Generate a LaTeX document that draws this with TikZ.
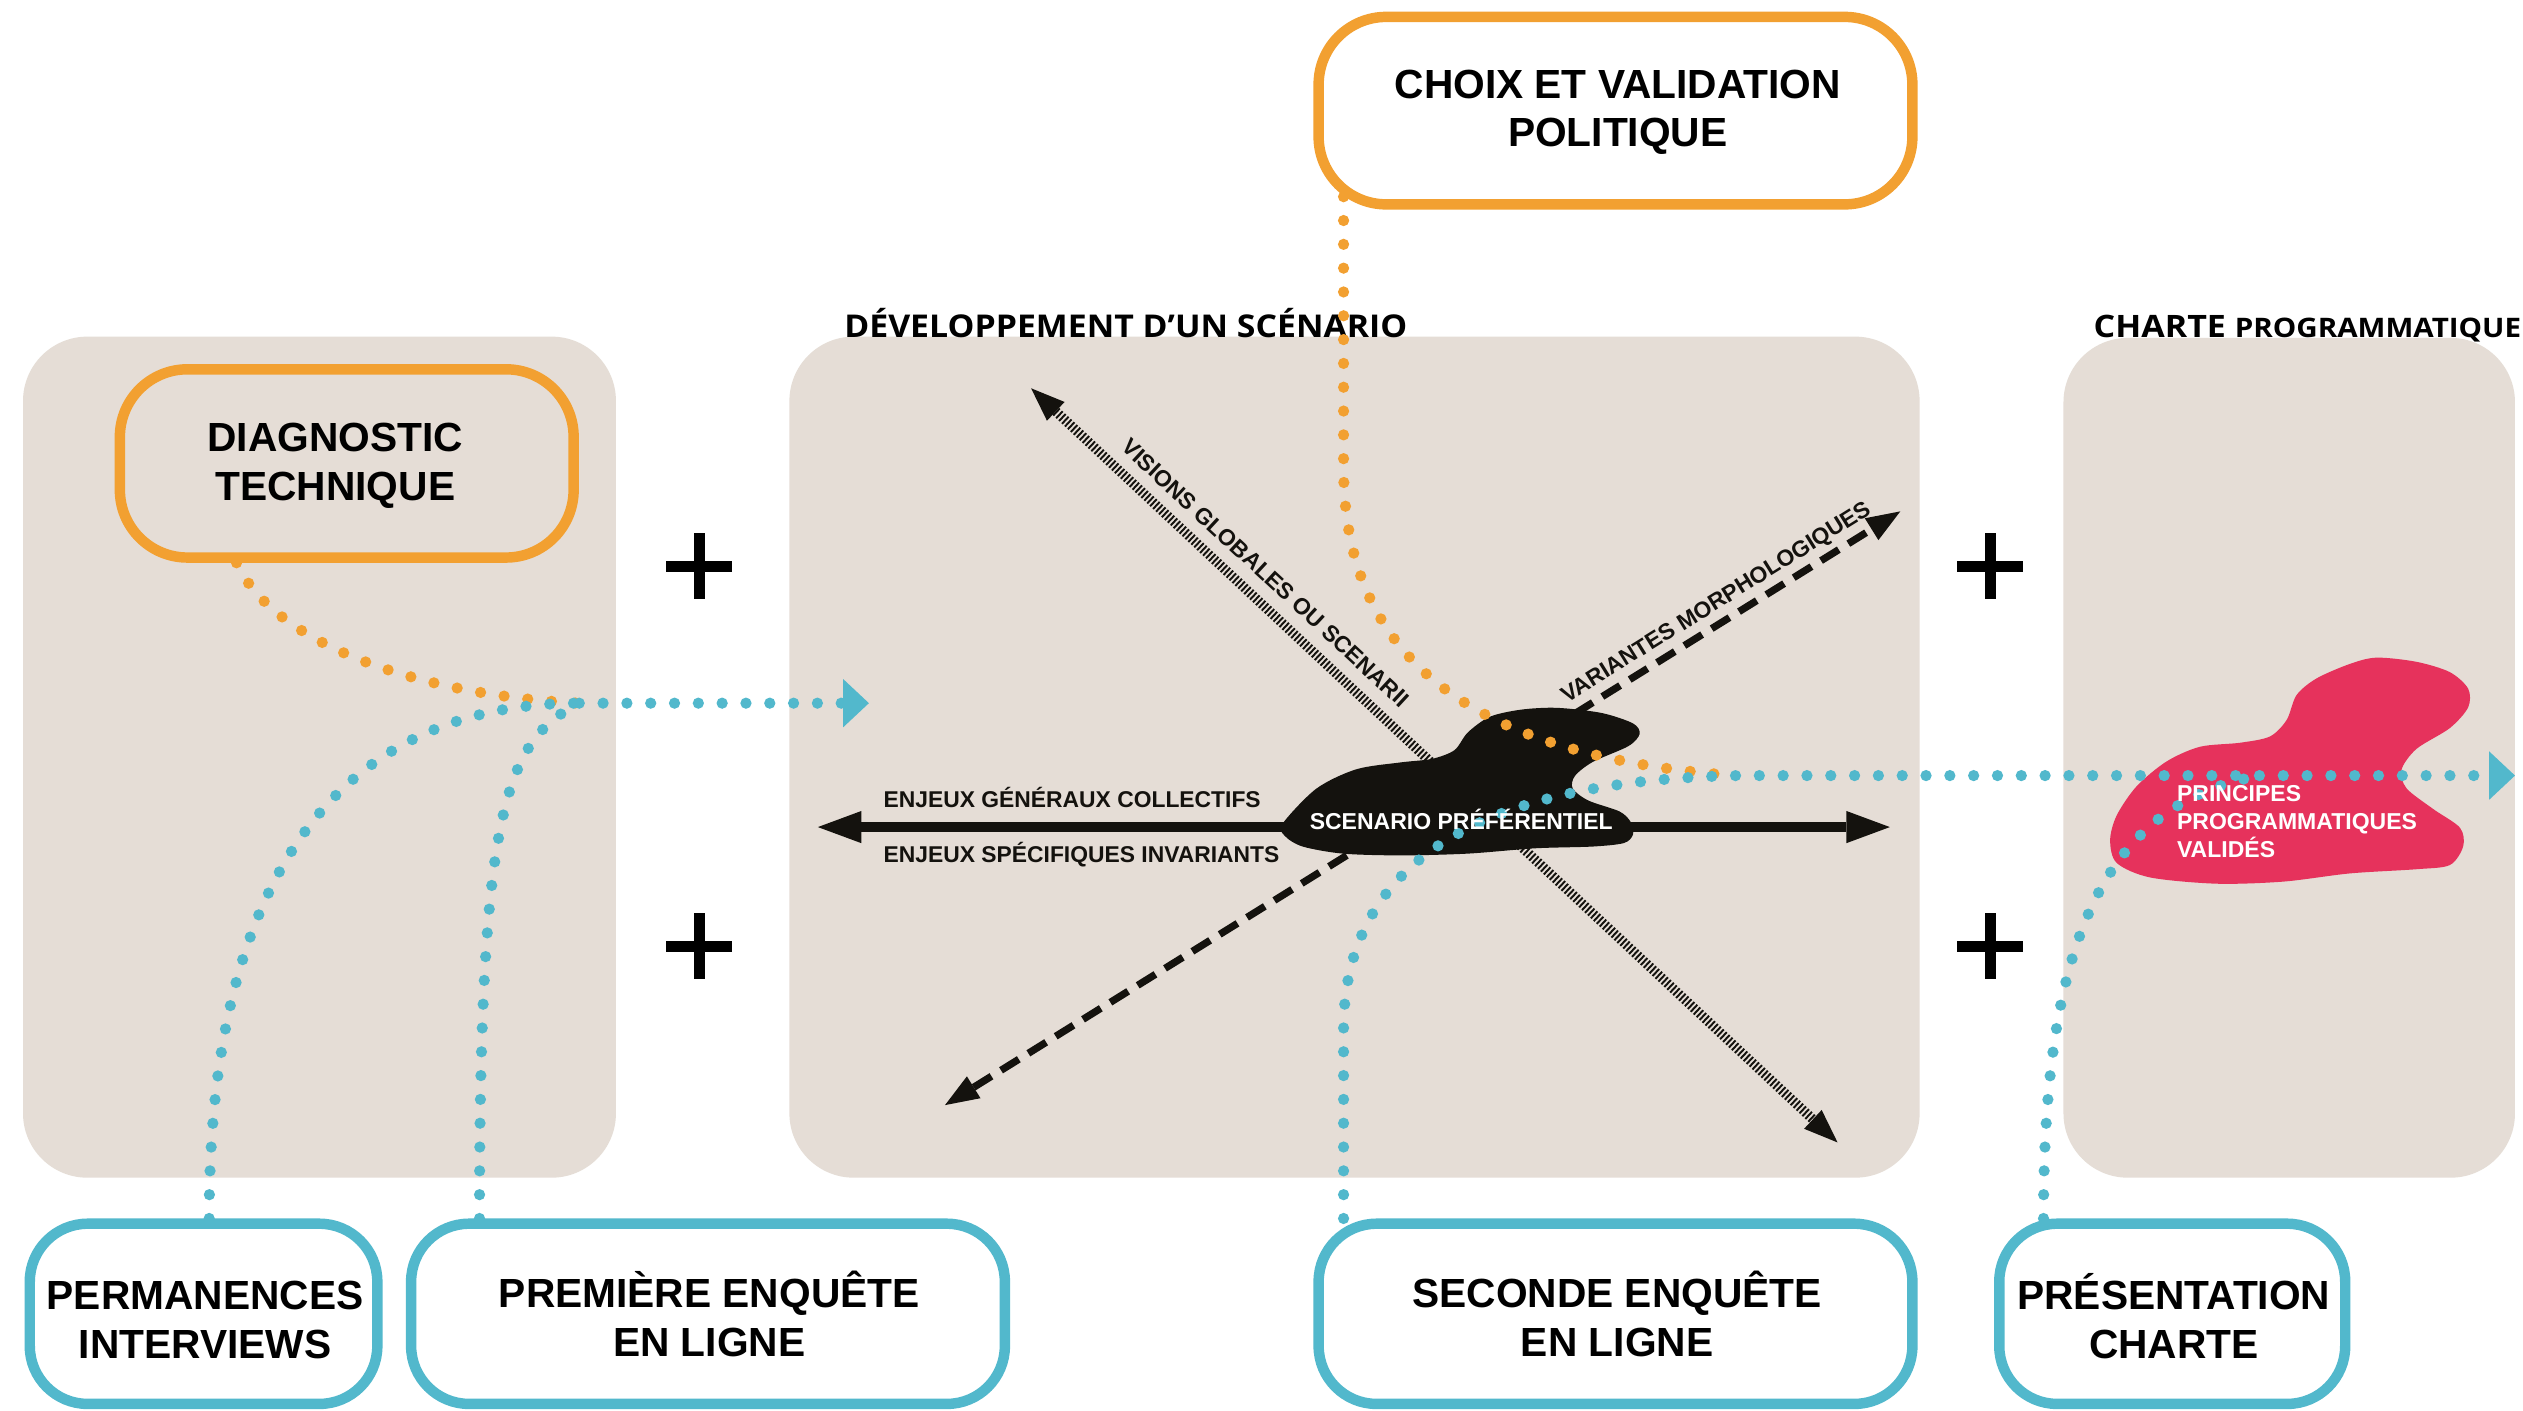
\documentclass[tikz,border=0pt]{standalone}
\usepackage{fontspec}
\setmainfont{Liberation Sans}
\newfontfamily\titlefont[FakeStretch=1.1]{Open Sans}
\newfontfamily\titlefontb[FakeStretch=1.078]{Open Sans}
\usetikzlibrary{arrows.meta}
\definecolor{bgbeige}{RGB}{229,221,214}
\definecolor{orng}{RGB}{242,160,49}
\definecolor{tl}{RGB}{82,184,204}
\definecolor{pinkb}{RGB}{230,50,92}
\definecolor{ink}{RGB}{20,18,14}
\tikzset{
  bigtri/.tip={Triangle[length=27pt,width=20pt,line width=0pt]},
  midtri/.tip={Triangle[length=21pt,width=16pt,line width=0pt]},
  ttri/.tip={Triangle[length=16pt,width=30pt,line width=0pt]},
}
\begin{document}
\begin{tikzpicture}[x=1pt,y=-1pt,
  bgbox/.style={fill=bgbeige, rounded corners=40pt},
  obox/.style={draw=orng, line width=6.5pt, rounded corners=42pt, inner sep=0pt},
  tbox/.style={draw=tl, line width=6.5pt, fill=white, rounded corners=36pt, inner sep=0pt},
  boxtxt/.style={font=\bfseries\fontsize{25.3}{30.4}\selectfont, align=center, inner sep=0pt, text=black},
  lbl/.style={font=\bfseries\fontsize{14.2}{17}\selectfont, inner sep=0pt, text=ink},
  ttl/.style={font=\titlefontb\bfseries\fontsize{19.5}{22}\selectfont, inner sep=0pt, anchor=base west, text=black},
  dotO/.style={draw=orng, line width=7pt, line cap=round, dash pattern=on 0pt off 14.8pt},
  dotT/.style={draw=tl, line width=7pt, line cap=round, dash pattern=on 0pt off 14.8pt},
  plusbar/.style={draw=black, line width=7pt},
]
\useasboundingbox[fill=white] (0,0) rectangle (1568,876.3);

% panels
\path[bgbox] (14.3,209.2) rectangle (382.8,731.9);
\path[bgbox] (490.6,209.2) rectangle (1193,731.9);
\path[bgbox] (1282.4,210) rectangle (1563,731.9);

% section titles
\node[ttl] (tdev) at (524.5,209.6) {DÉVELOPPEMENT D’UN SCÉNARIO};
\node[ttl, font=\titlefont\bfseries\fontsize{19.2}{22}\selectfont] (tcha) at (1301,209.6) {CHARTE {\fontsize{16.7}{22}\selectfont PROGRAMMATIQUE}};

% plus signs
\foreach \px/\py in {434.5/352, 434.5/588, 1237/352, 1237/588} {
  \draw[plusbar] (\px-20.5,\py) -- (\px+20.5,\py) (\px,\py-20.5) -- (\px,\py+20.5);
}

% axes
\coordinate (hL) at (508.3,514);
\coordinate (hR) at (1174.5,514);
\coordinate (dSW) at (587.3,686.8);
\coordinate (dNE) at (1181,317.8);
\coordinate (vNW) at (640.8,241.3);
\coordinate (vSE) at (1142,710);
\draw[ink, line width=4.5pt, dash pattern=on 13pt off 7pt, midtri-midtri] (dSW) -- (dNE);
\draw[ink, line width=6pt, dash pattern=on 1.2pt off 1.3pt, midtri-midtri] (vNW) -- (vSE);
\draw[ink, line width=6pt, bigtri-bigtri] (hL) -- (hR);

\node[lbl, rotate=-42.8] (lvis) at (786.5,356) {VISIONS GLOBALES OU SCENARII};
\node[lbl, rotate=31.9] (lvar) at (1067,375) {VARIANTES MORPHOLOGIQUES};
\node[lbl, anchor=base west] (lcol) at (549,502) {ENJEUX GÉNÉRAUX COLLECTIFS};
\node[lbl, anchor=base west] (linv) at (549,536.2) {ENJEUX SPÉCIFIQUES INVARIANTS};

% black blob
\fill[ink] plot[smooth cycle, tension=0.5] coordinates {
(797.1,511.9) (818.1,490.1) (842.9,478.1) (870.6,473.8) (890,471.6) (903.9,466.2)
(912.2,455.2) (926,445.4) (945.5,441) (967.7,439.9) (995.4,443.1) (1014.9,449.6)
(1019,456.1) (1012,463.7) (989.9,473.5) (978.8,482.2) (977.4,490) (987.1,497.5)
(1006.5,504.3) (1013.4,510.8) (1014.9,518.5) (1009.3,523.9) (989.9,526.1)
(953.9,527.2) (912.2,530.5) (870.6,531.6) (834.6,530.5) (809.6,526.1) (798.5,519.5)};

% pink blob
\fill[pinkb] plot[smooth cycle, tension=0.5] coordinates {
(1311.4,522.1) (1315.5,506.7) (1327.9,488.6) (1346.5,473.2) (1367.2,464.1)
(1392.1,461.6) (1410.7,457.7) (1421.1,447.4) (1427.3,431.9) (1439.7,421.6)
(1460.4,412.6) (1477,408.7) (1501.8,411.3) (1522.5,417.7) (1533.9,428)
(1533.9,439.6) (1522.5,452.5) (1501.8,465.4) (1492.5,478.3) (1495.6,489.9)
(1512.2,502.8) (1528.8,514.4) (1530.8,526) (1522.5,537.6) (1501.8,540.2)
(1460.4,542.8) (1419,547.9) (1377.6,549.2) (1336.2,545.3) (1315.5,536.3)};

% boxes (geometry)
\node[obox, minimum width=282pt, minimum height=117pt] (diag) at (215.5,288) {};
\node[obox, fill=white, minimum width=369pt, minimum height=116.5pt] (choix) at (1004,68.75) {};

% merge / arrow coordinates
\coordinate (mL) at (360,437);
\coordinate (aL) at (540,437);
\coordinate (aR) at (1563,482);

% orange dotted links
\draw[dotO] ([xshift=-68.5pt]diag.south) .. controls (170,400) and (260,432) .. (mL);
\draw[dotO] ([xshift=-169pt,yshift=8pt]choix.south) -- (835,290) .. controls (835,390) and (890,465) .. (1066,481);

% bottom boxes
\node[tbox, minimum width=216pt, minimum height=112pt] (perm) at (126.5,816.5) {};
\node[tbox, minimum width=369pt, minimum height=112pt] (prem) at (440,816.5) {};
\node[tbox, minimum width=369pt, minimum height=112pt] (sec) at (1004,816.5) {};
\node[tbox, minimum width=215pt, minimum height=112pt] (pres) at (1350,816.5) {};

% teal dotted links
\draw[dotT] ([xshift=3.5pt]perm.north) .. controls (130,520) and (230,437) .. (mL);
\draw[dotT] ([xshift=-142pt]prem.north) .. controls (298,500) and (315,460) .. (mL);
\draw[dotT, -ttri] (mL) -- (aL);
\draw[dotT, -ttri] ([xshift=-169pt]sec.north) -- (835,640) .. controls (835,530) and (930,485) .. (1080,482) -- (aR);
\draw[dotT] ([xshift=-80pt]pres.north) .. controls (1270,600) and (1300,500) .. (1405,482);

% texts
\node[lbl, text=white, anchor=base west] (scen) at (813.8,515.2) {\fontsize{14.3}{17}\selectfont SCENARIO PRÉFÉRENTIEL};
\node[lbl, text=white, anchor=west, align=left, font=\bfseries\fontsize{14.3}{17.25}\selectfont] (princ) at (1352.8,510.6) {PRINCIPES\\PROGRAMMATIQUES\\VALIDÉS};

\node[boxtxt] (diagt) at (208.4,289.6) {DIAGNOSTIC\\TECHNIQUE};
\node[boxtxt] (choixt) at (1005.4,69.8) {CHOIX ET VALIDATION\\POLITIQUE};
\node[boxtxt] (permt) at (127.5,820.6) {PERMANENCES\\INTERVIEWS};
\node[boxtxt] (premt) at (440.8,816.8) {PREMIÈRE ENQUÊTE\\EN LIGNE};
\node[boxtxt] (sect) at (1005,816.8) {SECONDE ENQUÊTE\\EN LIGNE};
\node[boxtxt] (prest) at (1351,818.1) {PRÉSENTATION\\CHARTE};
\end{tikzpicture}
\end{document}
